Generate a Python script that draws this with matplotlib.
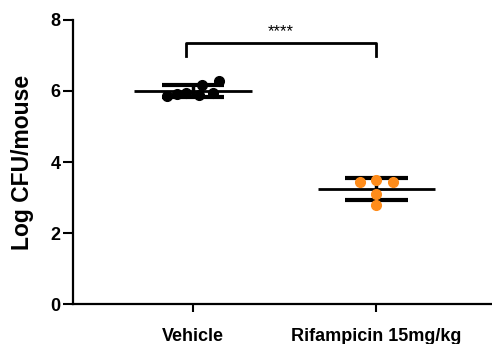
import numpy as np
import matplotlib.pyplot as plt

plt.rcParams['font.family'] = ['Liberation Sans', 'DejaVu Sans']
plt.rcParams['font.weight'] = 'bold'

groups = ['Vehicle', 'Rifampicin 15mg/kg']
vehicle = [5.85, 5.92, 5.95, 5.88, 6.18, 5.95, 6.28]
rif = [3.43, 3.48, 3.43, 3.09, 2.78]
# small horizontal spread so points don't overlap
vehicle_dx = [-0.14, -0.09, -0.04, 0.03, 0.05, 0.11, 0.14]
rif_dx = [-0.09, 0.0, 0.09, 0.0, 0.0]
sig = '****'

fig = plt.figure(figsize=(4.92, 3.44), dpi=100)
ax = fig.add_axes([0.148, 0.116, 0.852, 0.826])

data = [vehicle, rif]
dxs = [vehicle_dx, rif_dx]
colors = ['black', '#FF8C1A']
for i, (vals, dx, c) in enumerate(zip(data, dxs, colors)):
    vals = np.array(vals)
    m = vals.mean()
    sd = vals.std(ddof=1)
    ax.plot(i + np.array(dx), vals, 'o', color=c, markersize=7, zorder=3)
    ax.hlines(m, i - 0.32, i + 0.32, color='black', lw=2, zorder=2)
    ax.hlines([m - sd, m + sd], i - 0.17, i + 0.17, color='black', lw=3, zorder=2)
    ax.vlines(i, m - sd, m + sd, color='black', lw=2.5, zorder=2)

# significance bracket
by = 7.35
ax.plot([-0.04, -0.04, 1.0, 1.0], [6.98, by, by, 6.98], color='black', lw=2)
ax.text(0.48, by + 0.1, sig, ha='center', va='bottom', fontsize=12, fontweight='normal')

ax.set_xlim(-0.656, 1.63)
ax.set_ylim(0, 8)
ax.set_yticks([0, 2, 4, 6, 8])
ax.set_xticks([0, 1])
ax.set_xticklabels(groups, fontsize=13, fontweight='bold')
ax.set_ylabel('Log CFU/mouse', fontsize=16.5, fontweight='bold', labelpad=12)
for lab in ax.get_yticklabels():
    lab.set_fontsize(13)
    lab.set_fontweight('bold')
ax.tick_params(axis='y', direction='out', length=7, width=1.5, pad=2)
ax.tick_params(axis='x', direction='out', length=6, width=1.5, pad=11)
ax.spines['top'].set_visible(False)
ax.spines['right'].set_visible(False)
ax.spines['left'].set_linewidth(1.6)
ax.spines['bottom'].set_linewidth(1.6)

plt.savefig('out.png', dpi=100)
